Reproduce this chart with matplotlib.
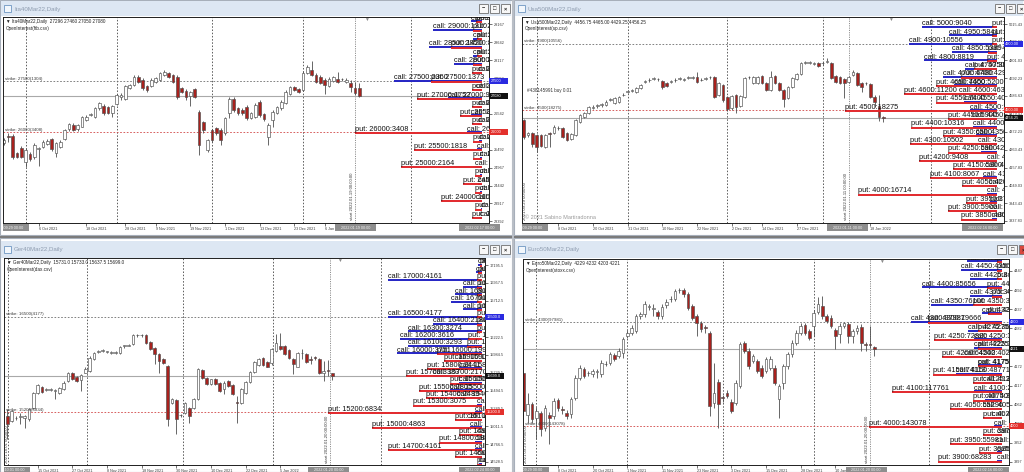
import matplotlib.pyplot as plt
from matplotlib.patches import Rectangle
from matplotlib.transforms import Bbox

plt.rcParams['font.family'] = ['Liberation Sans', 'DejaVu Sans']

W, H = 1024, 472

# ---------------- Ita40Mar22 (top left) ----------------
ita_open = [25680, 25880, 25900, 25390, 25530, 25140, 25360, 25270, 25510, 25580,
            25660, 25800, 25410, 25580, 25800, 26090, 26220, 26090, 26170, 26360,
            26510, 26460, 26700, 26770, 26730, 26580, 26830, 27050, 26990, 27290,
            27390, 27630, 27540, 27360, 27360, 27490, 27540, 27680, 27730, 27680,
            27630, 27290, 27220, 27070, 27260, 26610, 26290, 25480, 26070, 26120,
            26070, 25970, 26560, 26980, 26710, 26660, 26750, 26410, 26460, 26900,
            26540, 25870, 26360, 26580, 26710, 26850, 27120, 27320, 27260, 27240,
            27730, 27830, 27680, 27610, 27540, 27360, 27520, 27560, 27560, 27490,
            27460, 27290, 27296]
ita_high = [25830, 25970, 25950, 25440, 25590, 25530, 25420, 25680, 25580, 25780,
            25810, 25850, 25720, 25780, 26100, 26270, 26270, 26260, 26480, 26510,
            26560, 26750, 26900, 26820, 26770, 26800, 27120, 27150, 27400, 27430,
            27680, 27680, 27580, 27390, 27580, 27630, 27770, 27830, 27780, 27720,
            27680, 27340, 27260, 27220, 27300, 26650, 26330, 25820, 26110, 26170,
            26120, 26460, 27050, 27030, 26750, 26700, 26800, 26600, 26850, 26950,
            26580, 26270, 26650, 26770, 26950, 27240, 27370, 27370, 27300, 27800,
            27980, 28100, 27730, 27680, 27590, 27610, 27660, 27780, 27600, 27590,
            27540, 27490, 27460]
ita_low = [25630, 25730, 25210, 25240, 25240, 24990, 25150, 25220, 25020, 25540,
           25620, 25460, 25290, 25540, 25770, 26050, 26030, 26050, 26150, 26330,
           26470, 26430, 26670, 26520, 26540, 26460, 26800, 26950, 26960, 27260,
           27360, 27450, 27240, 27190, 27330, 27460, 27510, 27650, 27590, 27450,
           26990, 27150, 26950, 26770, 27000, 25340, 25990, 25430, 25730, 25920,
           25630, 25930, 26410, 26610, 26510, 26510, 26370, 26380, 26420, 26460,
           26330, 25630, 26170, 26540, 26670, 26820, 27090, 27200, 27150, 27200,
           27700, 27640, 27440, 27410, 27120, 27320, 27480, 27440, 27500, 27440,
           27190, 27100, 27050]
ita_close = [25780, 25870, 25290, 25290, 25290, 25480, 25210, 25630, 25530, 25730,
             25760, 25500, 25680, 25730, 26070, 26240, 26070, 26220, 26440, 26460,
             26520, 26700, 26850, 26560, 26580, 26770, 27090, 27100, 27360, 27390,
             27630, 27490, 27290, 27240, 27540, 27590, 27730, 27780, 27620, 27490,
             27050, 27190, 27050, 27170, 27050, 25630, 26070, 25780, 25780, 25970,
             25780, 26410, 26990, 26660, 26560, 26560, 26410, 26560, 26800, 26510,
             26380, 26220, 26600, 26730, 26900, 27190, 27320, 27240, 27190, 27750,
             27930, 27680, 27490, 27460, 27390, 27560, 27610, 27490, 27550, 27540,
             27340, 27150, 27080]
ita_strikes = [29250, 29000, 28750, 28500, 28250, 28000, 27750, 27500, 27250, 27000,
               26750, 26500, 26250, 26000, 25750, 25500, 25250, 25000, 24750, 24500,
               24250, 24000, 23750, 23500]
ita_calls = [300, 1310, 240, 1420, 250, 740, 100, 2360, 150, 920,
             100, 300, 100, 400, 80, 130, 60, 180, 50, 100,
             50, 150, 40, 60]
ita_puts = [150, 240, 130, 840, 130, 240, 260, 1373, 260, 1752,
            260, 600, 260, 3408, 240, 1818, 240, 2164, 200, 500,
            200, 1105, 200, 260]
ita_ticks = [29167, 28642, 28117, 27592, 27067, 26542, 26017, 25492, 24967, 24442, 23917, 23392]
ita_dates = ['6 Oct 2021', '18 Oct 2021', '28 Oct 2021', '9 Nov 2021', '19 Nov 2021',
             '1 Dec 2021', '13 Dec 2021', '23 Dec 2021', '6 Jan 2022']
ita_date_idx = [8, 19, 28, 35, 43, 51, 59, 67, 74]
ita_grid_idx = [5, 26, 48, 69, 94]
ita_stamps = ['2021.09.29 00:00', '2022.01.19 00:00', '2022.02.17 00:00']
ita_stamp_idx = [1.0, 81.1, 109.7]

# ---------------- Usa500Mar22 (top right) ----------------
usa_open = [4442, 4352, 4362, 4352, 4352, 4283, 4362, 4362, 4392, 4392,
            4362, 4327, 4352, 4432, 4462, 4482, 4516, 4526, 4532, 4532,
            4564, 4546, 4552, 4590, 4611, 4617, 4612, 4632, 4670, 4680,
            4688, 4685, 4678, 4666, 4668, 4680, 4688, 4684, 4693, 4696,
            4702, 4680, 4688, 4697, 4702, 4592, 4652, 4582, 4512, 4592,
            4526, 4582, 4697, 4662, 4662, 4706, 4666, 4622, 4706, 4662,
            4622, 4572, 4638, 4686, 4718, 4785, 4785, 4780, 4786, 4781,
            4788, 4786, 4706, 4702, 4686, 4672, 4712, 4726, 4662, 4662,
            4658, 4582, 4526, 4456.75]
usa_high = [4450, 4370, 4368, 4360, 4360, 4360, 4372, 4412, 4404, 4398,
            4368, 4366, 4448, 4478, 4488, 4524, 4530, 4536, 4542, 4560,
            4574, 4578, 4588, 4602, 4622, 4628, 4640, 4660, 4682, 4694,
            4700, 4696, 4684, 4672, 4680, 4692, 4700, 4696, 4704, 4708,
            4732, 4692, 4700, 4708, 4708, 4668, 4658, 4588, 4592, 4598,
            4592, 4700, 4708, 4708, 4708, 4712, 4672, 4738, 4712, 4668,
            4628, 4644, 4698, 4724, 4788, 4796, 4796, 4792, 4792, 4792,
            4812, 4792, 4712, 4708, 4692, 4708, 4742, 4732, 4668, 4670,
            4664, 4592, 4592, 4465.00]
usa_low = [4330, 4340, 4283, 4253, 4280, 4273, 4283, 4356, 4384, 4336,
           4316, 4320, 4346, 4426, 4456, 4476, 4510, 4516, 4522, 4526,
           4556, 4540, 4546, 4584, 4604, 4610, 4606, 4626, 4662, 4672,
           4680, 4676, 4630, 4640, 4662, 4672, 4680, 4678, 4686, 4690,
           4666, 4674, 4682, 4690, 4572, 4586, 4552, 4496, 4500, 4486,
           4518, 4576, 4690, 4656, 4656, 4656, 4614, 4616, 4656, 4616,
           4522, 4566, 4632, 4680, 4712, 4778, 4778, 4772, 4762, 4774,
           4782, 4686, 4666, 4656, 4572, 4666, 4706, 4646, 4612, 4654,
           4576, 4522, 4438, 4429.25]
usa_close = [4343, 4362, 4299, 4283, 4287, 4352, 4358, 4402, 4394, 4343,
             4323, 4358, 4442, 4472, 4482, 4518, 4520, 4527, 4533, 4552,
             4566, 4572, 4582, 4594, 4613, 4619, 4632, 4652, 4674, 4684,
             4692, 4687, 4638, 4646, 4673, 4684, 4691, 4688, 4695, 4699,
             4672, 4683, 4691, 4699, 4578, 4662, 4562, 4506, 4586, 4522,
             4586, 4692, 4698, 4702, 4702, 4662, 4622, 4702, 4662, 4622,
             4566, 4638, 4692, 4718, 4782, 4786, 4786, 4784, 4768, 4782,
             4792, 4692, 4672, 4662, 4662, 4702, 4732, 4652, 4642, 4661,
             4582, 4552, 4462, 4456.25]
usa_strikes = [5000, 4950, 4900, 4850, 4800, 4750, 4700, 4650, 4600, 4550,
               4500, 4450, 4400, 4350, 4300, 4250, 4200, 4150, 4100, 4050,
               4000, 3950, 3900, 3850]
usa_calls = [9040, 5841, 10556, 5389, 8819, 3852, 6480, 5200, 4633, 4020,
             3300, 3000, 2900, 2500, 2300, 1900, 1200, 1500, 1700, 1000,
             1200, 800, 900, 600]
usa_puts = [600, 600, 600, 1100, 1200, 2800, 4294, 7400, 11200, 7400,
            18275, 5900, 10316, 6500, 10502, 5900, 9408, 5300, 8067, 4200,
            16714, 3700, 5900, 4300]
usa_ticks = [5015.43, 4909.63, 4801.03, 4692.23, 4586.63, 4479.43,
             4372.23, 4263.43, 4157.83, 4049.03, 3943.43, 3837.83]
usa_dates = ['8 Oct 2021', '20 Oct 2021', '31 Oct 2021', '10 Nov 2021', '22 Nov 2021',
             '2 Dec 2021', '14 Dec 2021', '27 Dec 2021', '18 Jan 2022']
usa_date_idx = [8, 16, 24, 32, 40, 48, 55, 63, 80]
usa_grid_idx = [3, 24, 47, 69, 94]
usa_stamps = ['2021.09.29 00:00', '2022.01.11 00:00', '2022.02.16 00:00']
usa_stamp_idx = [0.9, 74.8, 105.9]

# ---------------- Ger40Mar22 (bottom left) ----------------
ger_open = [15152, 15084, 15120, 15135, 15129, 15107, 15265, 15468, 15550, 15505,
            15505, 15490, 15468, 15523, 15627, 15730, 15685, 15640, 15740, 15762,
            15920, 16018, 16033, 16018, 16009, 16009, 16002, 16099, 16106, 16124,
            16244, 16244, 16246, 16150, 16079, 15988, 15929, 15830, 15333, 15369,
            15160, 15188, 15265, 15265, 15378, 15776, 15672, 15581, 15649, 15604,
            15514, 15627, 15568, 15335, 15333, 15468, 15613, 15749, 15839, 15943,
            15884, 15866, 16033, 16101, 16101, 16047, 15920, 15821, 16002, 15988,
            15920, 15938, 15920, 15740, 15762, 15731.0]
ger_high = [15242, 15240, 15150, 15197, 15170, 15260, 15480, 15585, 15565, 15530,
            15525, 15515, 15550, 15620, 15745, 15745, 15700, 15715, 15810, 15960,
            16025, 16045, 16055, 16040, 16030, 16030, 16100, 16120, 16130, 16260,
            16268, 16268, 16262, 16165, 16092, 16000, 15945, 15845, 15395, 15385,
            15180, 15340, 15280, 15400, 15800, 15790, 15685, 15660, 15665, 15615,
            15620, 15640, 15580, 15423, 15525, 15625, 15760, 15895, 15940, 15955,
            15895, 16070, 16259, 16273, 16115, 16060, 15935, 16015, 16056, 16000,
            15966, 15960, 15935, 15898, 15910, 15733.0]
ger_low = [14836, 15070, 15100, 15039, 14994, 15090, 15250, 15455, 15465, 15485,
           15488, 15378, 15455, 15510, 15615, 15645, 15615, 15491, 15730, 15750,
           15905, 16000, 16015, 16000, 15990, 15990, 15990, 16080, 16095, 16110,
           16228, 16228, 16135, 16050, 15853, 15740, 15860, 15016, 15320, 14903,
           15145, 15175, 15062, 15250, 15365, 15660, 15570, 15570, 15570, 15480,
           15446, 15545, 15435, 15053, 15320, 15455, 15600, 15735, 15825, 15825,
           15810, 15850, 16020, 16050, 15975, 15930, 15717, 15810, 15920, 15870,
           15853, 15915, 15725, 15627, 15690, 15637.5]
ger_close = [15039, 15220, 15130, 15138, 15152, 15242, 15468, 15568, 15477, 15508,
             15508, 15493, 15536, 15604, 15730, 15658, 15627, 15703, 15794, 15943,
             16011, 16022, 16036, 16022, 16013, 16013, 16088, 16103, 16114, 16246,
             16248, 16248, 16146, 16065, 15988, 15898, 15875, 15116, 15378, 15107,
             15163, 15324, 15152, 15387, 15785, 15672, 15581, 15649, 15581, 15491,
             15604, 15559, 15446, 15333, 15514, 15613, 15749, 15884, 15929, 15839,
             15821, 16056, 16137, 16065, 15988, 15943, 15853, 16002, 16000, 15884,
             15918, 15936, 15740, 15762, 15760, 15699.0]
ger_strikes = [17200, 17100, 17000, 16900, 16800, 16700, 16600, 16500, 16400, 16300,
               16200, 16100, 16000, 15900, 15800, 15700, 15600, 15500, 15400, 15300,
               15200, 15100, 15000, 14900, 14800, 14700, 14600, 14500]
ger_calls = [150, 250, 4161, 850, 1200, 1370, 850, 4177, 2180, 3274,
             3616, 3293, 3751, 1200, 1000, 2170, 1000, 1400, 1100, 200,
             300, 660, 500, 200, 300, 300, 200, 100]
ger_puts = [80, 150, 200, 200, 200, 200, 200, 200, 200, 200,
            620, 650, 1990, 1690, 2441, 3383, 1400, 2805, 2489, 3075,
            6834, 1180, 4863, 1000, 1880, 4161, 1200, 200]
ger_ticks = [17195.5, 16957.5, 16712.5, 16467.5, 16222.5, 15984.5,
             15739.5, 15494.5, 15249.5, 15011.5, 14766.5, 14528.5]
ger_dates = ['15 Oct 2021', '27 Oct 2021', '8 Nov 2021', '18 Nov 2021',
             '30 Nov 2021', '10 Dec 2021', '22 Dec 2021', '5 Jan 2022']
ger_date_idx = [7, 15, 23, 31, 39, 47, 55, 63]
ger_grid_idx = [0.2, 18.3, 40.5, 61.4, 86.3]
ger_stamps = ['2021.10.01 00:00', '2022.01.20 00:00', '2022.02.24 00:00']
ger_stamp_idx = [0.5, 74.2, 109.0]

# ---------------- Euro50Mar22 (bottom right) ----------------
eu_open = [4154, 4031, 4063, 4025, 4039, 3996, 4031, 4029, 4076, 4049,
           4039, 4034, 4082, 4140, 4164, 4152, 4149, 4156, 4149, 4178,
           4183, 4205, 4202, 4212, 4260, 4269, 4274, 4317, 4322, 4344,
           4339, 4329, 4317, 4348, 4365, 4367, 4391, 4392, 4380, 4346,
           4316, 4296, 4284, 4267, 4068, 4127, 4082, 4097, 4070, 4068,
           4116, 4239, 4217, 4188, 4188, 4169, 4159, 4169, 4169, 4077,
           4125, 4173, 4207, 4241, 4269, 4291, 4274, 4289, 4329, 4346,
           4317, 4313, 4276, 4265, 4289, 4293, 4260, 4274, 4286, 4236,
           4236, 4229]
eu_high = [4160, 4097, 4070, 4055, 4045, 4060, 4040, 4080, 4082, 4058,
           4046, 4085, 4147, 4176, 4170, 4160, 4166, 4164, 4190, 4188,
           4214, 4212, 4224, 4257, 4276, 4291, 4324, 4329, 4361, 4352,
           4351, 4336, 4351, 4365, 4374, 4396, 4399, 4399, 4386, 4352,
           4322, 4302, 4291, 4273, 4183, 4135, 4090, 4104, 4077, 4132,
           4243, 4246, 4224, 4209, 4195, 4176, 4200, 4202, 4176, 4123,
           4180, 4214, 4248, 4276, 4296, 4298, 4281, 4334, 4372, 4375,
           4324, 4320, 4283, 4296, 4300, 4300, 4279, 4291, 4293, 4243,
           4289, 4232]
eu_low = [4030, 4010, 4010, 3962, 3972, 3985, 3948, 4020, 4045, 4034,
          4020, 4025, 4075, 4134, 4138, 4144, 4143, 4140, 4142, 4172,
          4177, 4188, 4196, 4197, 4253, 4262, 4268, 4310, 4315, 4336,
          4317, 4309, 4310, 4341, 4358, 4360, 4384, 4373, 4334, 4306,
          4260, 4272, 4269, 4029, 4053, 3996, 4070, 4080, 4037, 4061,
          4110, 4210, 4166, 4181, 4152, 4138, 4152, 4162, 4118, 4025,
          4106, 4166, 4200, 4234, 4262, 4262, 4248, 4260, 4322, 4310,
          4296, 4282, 4221, 4241, 4282, 4241, 4241, 4267, 4217, 4217,
          4226, 4203]
eu_close = [4044, 4063, 4020, 4044, 3991, 4053, 4025, 4073, 4053, 4048,
            4029, 4077, 4140, 4169, 4145, 4153, 4159, 4157, 4183, 4180,
            4207, 4195, 4217, 4250, 4269, 4284, 4317, 4322, 4351, 4345,
            4340, 4316, 4344, 4358, 4366, 4389, 4392, 4380, 4341, 4313,
            4296, 4279, 4283, 4058, 4097, 4063, 4081, 4087, 4044, 4125,
            4236, 4217, 4173, 4202, 4159, 4145, 4193, 4195, 4125, 4116,
            4173, 4207, 4241, 4269, 4289, 4269, 4255, 4327, 4351, 4317,
            4303, 4289, 4260, 4289, 4296, 4260, 4274, 4284, 4241, 4235,
            4235, 4221]
eu_strikes = [4475, 4450, 4425, 4400, 4375, 4350, 4325, 4300, 4275, 4250,
              4225, 4200, 4175, 4150, 4125, 4100, 4075, 4050, 4025, 4000,
              3975, 3950, 3925, 3900]
eu_calls = [37000, 43500, 34000, 85656, 34000, 76100, 21000, 97981, 36000, 30000,
            30000, 40201, 25000, 48771, 20000, 29500, 18000, 20000, 10000, 8000,
            5000, 6000, 5000, 5000]
eu_puts = [5000, 5000, 5000, 16000, 10000, 30500, 15000, 79666, 25000, 72820,
           25000, 64542, 25000, 74113, 31000, 117761, 31000, 55296, 20000, 143078,
           20000, 55981, 24000, 68283]
eu_ticks = [4447, 4392, 4337, 4282, 4227, 4172, 4117, 4062, 4007, 3952, 3897]
eu_dates = ['8 Oct 2021', '20 Oct 2021', '1 Nov 2021', '11 Nov 2021', '23 Nov 2021',
            '3 Dec 2021', '15 Dec 2021', '28 Dec 2021', '10 Jan 2022']
eu_date_idx = [8, 16, 24, 32, 40, 48, 56, 64, 72]
eu_grid_idx = [2.9, 23.9, 46, 67, 93.6]
eu_stamps = ['2021.09.29 00:00', '2022.01.20 00:00', '2022.02.16 00:00']
eu_stamp_idx = [1.1, 79.1, 107.3]

BLUE = '#2424c4'
RED = '#e2282c'
BEAR = '#a8211d'
WICK = '#4e4e4e'
TXT = '#3a3a3a'

panels = [
    dict(name='Ita40Mar22', csv='ftb.csv', fmt='{:.0f}',
         o=ita_open, h=ita_high, l=ita_low, c=ita_close,
         strikes=ita_strikes, calls=ita_calls, puts=ita_puts,
         call_strike=(27500, 1304), put_strike=(26000, 3408),
         ticks=ita_ticks, dates=ita_dates, date_idx=ita_date_idx, grid=ita_grid_idx,
         start=81.1, start_label='start 2022.01.19 00:00:00', edge_label=None,
         stamps=ita_stamps, stamp_idx=ita_stamp_idx, extras=[],
         win=(0, 0, 512, 235, 1, 16), buttons=[479, 490, 501], close_red=False,
         chart=(3, 17, 489, 223), x0=4.0, dx=4.333, yscale=(24.3, 29167, 29.3),
         gap=7, oi_px=0.0373),
    dict(name='Usa500Mar22', csv='sp.csv', fmt='{:.2f}',
         o=usa_open, h=usa_high, l=usa_low, c=usa_close,
         strikes=usa_strikes, calls=usa_calls, puts=usa_puts,
         call_strike=(4900, 10556), put_strike=(4500, 18275),
         ticks=usa_ticks, dates=usa_dates, date_idx=usa_date_idx, grid=usa_grid_idx,
         start=75.1, start_label='start 2022.01.11 00:00:00',
         edge_label='2021.09.29 00:00:00',
         stamps=usa_stamps, stamp_idx=usa_stamp_idx,
         extras=[(5, 73, '#438145991 buy 0.01', 3.3, '#333333'),
                 (3, 200, '\u00a9 2021 Sabino Martiradonna', 4.0, '#9a9a9a')],
         win=(514, 0, 1024, 235, 1, 16), buttons=[995, 1006, 1017], close_red=False,
         chart=(522, 17.3, 1003.7, 222.7), x0=523.7, dx=4.333,
         yscale=(24.3, 5015.43, 5.987), gap=6.7, oi_px=0.0083),
    dict(name='Ger40Mar22', csv='dax.csv', fmt='{:.1f}',
         o=ger_open, h=ger_high, l=ger_low, c=ger_close,
         strikes=ger_strikes, calls=ger_calls, puts=ger_puts,
         call_strike=(16500, 4177), put_strike=(15200, 6834),
         ticks=ger_ticks, dates=ger_dates, date_idx=ger_date_idx, grid=ger_grid_idx,
         start=74.5, start_label='start 2022.01.20 00:00:00',
         edge_label='2021.10.01 00:00:00',
         stamps=ger_stamps, stamp_idx=ger_stamp_idx, extras=[],
         win=(0, 238, 512, 472, 241, 258), buttons=[479, 490, 501], close_red=False,
         chart=(4, 257.7, 485, 465.3), x0=7.3, dx=4.333,
         yscale=(265.3, 17195.5, 13.56), gap=3.3, oi_px=0.0225),
    dict(name='Euro50Mar22', csv='stoxx.csv', fmt='{:.0f}',
         o=eu_open, h=eu_high, l=eu_low, c=eu_close,
         strikes=eu_strikes, calls=eu_calls, puts=eu_puts,
         call_strike=(4300, 97981), put_strike=(4000, 143078),
         ticks=eu_ticks, dates=eu_dates, date_idx=eu_date_idx, grid=eu_grid_idx,
         start=80.1, start_label='start 2022.01.20 00:00:00',
         edge_label='2021.09.29 00:00:00',
         stamps=eu_stamps, stamp_idx=eu_stamp_idx, extras=[],
         win=(514, 238, 1024, 472, 241, 258), buttons=[997, 1008, 1019], close_red=True,
         chart=(522.7, 258.7, 1008.7, 465.3), x0=523.3, dx=4.333,
         yscale=(271, 4447, 2.88), gap=7, oi_px=0.00093),
]

fig = plt.figure(figsize=(W / 100, H / 100), dpi=100)
fig.patch.set_facecolor('#f3f3f3')
bg = fig.add_axes([0, 0, 1, 1])
bg.set_xlim(0, W)
bg.set_ylim(H, 0)
bg.axis('off')


def clip_px(artist, l, t, r, b):
    # clip an artist to a rectangle given in figure pixels (origin top-left)
    artist.set_clip_on(True)
    artist.set_clip_path(None)
    artist.set_clip_box(Bbox.from_extents(l, H - b, r, H - t))


def draw_window(p):
    x0, y0, x1, y1, tt, tb = p['win']
    bg.add_patch(Rectangle((x0, y0), x1 - x0, y1 - y0, fc='white', ec='#a7afba', lw=0.8))
    bg.add_patch(Rectangle((x0 + 1, tt), x1 - x0 - 2, tb - tt, fc='#dde7f3', ec='none'))
    ym = (tt + tb) / 2
    bg.add_patch(Rectangle((x0 + 4, ym - 3.5), 7, 7, fc='#f2f7fc', ec='#6e96c2', lw=0.6))
    bg.text(x0 + 14, ym + 0.5, p['name'] + ',Daily', fontsize=4.4, color='#8f9db0', va='center')
    for i, (bx, g) in enumerate(zip(p['buttons'], ['\u2212', '\u25a1', '\u00d7'])):
        fc = '#d8473e' if p['close_red'] and i == 2 else '#f7f7f7'
        bg.add_patch(Rectangle((bx, ym - 4.5), 9, 9, fc=fc, ec='#707070', lw=0.6))
        bg.text(bx + 4.5, ym, g, fontsize=4, ha='center', va='center',
                color='#222222', fontweight='bold')


def draw_panel(p):
    l, t, r, b = p['chart']
    wpx, hpx = r - l, b - t
    x0, dx = p['x0'], p['dx']
    yref, pref, ppx = p['yscale']
    o, hi, lo, c = p['o'], p['h'], p['l'], p['c']
    fmt = p['fmt']
    ax = fig.add_axes([l / W, 1 - b / H, wpx / W, hpx / H])
    xlo, xhi = (l - x0) / dx, (r - x0) / dx
    ylo, yhi = pref - (b - yref) * ppx, pref - (t - yref) * ppx
    ax.set_facecolor('white')
    for s in ax.spines.values():
        s.set_color('#1f1f1f')
        s.set_linewidth(0.7)

    # ticks: prices on the right, dates below
    ax.yaxis.tick_right()
    ax.set_yticks(p['ticks'], [fmt.format(v) for v in p['ticks']])
    ax.tick_params(axis='y', length=2, width=0.5, pad=1.5, labelsize=2.8, colors=TXT)
    ax.set_xticks(p['date_idx'], p['dates'])
    ax.tick_params(axis='x', length=2, width=0.5, pad=1.0, labelsize=2.7, colors=TXT)
    for lab in ax.get_xticklabels():
        lab.set_horizontalalignment('left')
    ax.set_xlim(xlo, xhi)
    ax.set_ylim(ylo, yhi)

    # grid and levels
    for g in p['grid']:
        ax.axvline(g, color='#333333', lw=0.55, ls=(0, (2, 2.2)), zorder=1)
    ax.axvline(p['start'], color='#707070', lw=0.55, ls=(0, (1.5, 1.5)), zorder=1)
    cs, coi = p['call_strike']
    ps, poi = p['put_strike']
    ax.axhline(cs, color='#6d6d6d', lw=0.6, ls=(0, (2, 2)), zorder=1)
    ax.axhline(ps, color='#d04545', lw=0.6, ls=(0, (2, 2)), zorder=1)
    ax.axhline(c[-1], color='#a9a9a9', lw=0.8, zorder=1)
    ax.text(xlo + 2 / dx, cs + 1.3 * ppx, f'strike: {cs}({coi})', fontsize=3.2, color=TXT, zorder=5)
    ax.text(xlo + 2 / dx, ps + 1.3 * ppx, f'strike: {ps}({poi})', fontsize=3.2, color=TXT, zorder=5)

    # candles
    xs = list(range(len(o)))
    ax.vlines(xs, lo, hi, color=WICK, lw=0.6, zorder=2)
    bottoms = [min(a, z) for a, z in zip(o, c)]
    heights = [max(abs(z - a), 0.8 * ppx) for a, z in zip(o, c)]
    faces = [BEAR if z < a else 'white' for a, z in zip(o, c)]
    ax.bar(xs, heights, bottom=bottoms, width=0.64, color=faces,
           edgecolor=WICK, linewidth=0.45, zorder=2.5)

    # open interest bars, anchored at the right
    end = xhi - p['gap'] / dx
    k = p['oi_px'] / dx
    cx = [end - v * k for v in p['calls']]
    px_ = [end - v * k for v in p['puts']]
    ax.hlines(p['strikes'], cx, end, color=BLUE, lw=1.4, zorder=3)
    ax.hlines([s - 0.6 * ppx for s in p['strikes']], px_, end, color=RED, lw=1.4, zorder=3.1)
    for s, v, x in zip(p['strikes'], p['calls'], cx):
        ax.text(x, s + 1.7 * ppx, f'call: {s}:{v}', fontsize=5.3, color='#111111',
                zorder=4, clip_on=True)
    for s, v, x in zip(p['strikes'], p['puts'], px_):
        ax.text(x, s + 1.7 * ppx, f'put: {s}:{v}', fontsize=5.3, color='#111111',
                zorder=4, clip_on=True)

    # header lines
    head = f"\u25bc {p['name']},Daily  " + ' '.join(fmt.format(v) for v in (o[-1], hi[-1], lo[-1], c[-1]))
    ax.text(3 / wpx, 1 - 2.5 / hpx, head, transform=ax.transAxes, fontsize=3.3,
            color='#222222', va='top', zorder=5)
    ax.text(3 / wpx, 1 - 9 / hpx, f"OpenInterest({p['csv']})", transform=ax.transAxes,
            fontsize=3.3, color='#222222', va='top', zorder=5)
    ax.text(len(o) + 0.7, yhi, '\u25bc', fontsize=3.5, color='#8a8a8a',
            ha='center', va='top', zorder=5)
    for xp, yp, s, fs, col in p['extras']:
        ax.text(xp / wpx, 1 - yp / hpx, s, transform=ax.transAxes, fontsize=fs,
                color=col, va='center', zorder=5)

    # vertical labels
    ax.text(p['start'] - 1.3 / dx, ylo + 2.5 * ppx, p['start_label'], rotation=90,
            fontsize=3.1, color=TXT, ha='right', va='bottom', zorder=5)
    if p['edge_label']:
        ax.text(xlo + 1 / dx, ylo + 2.5 * ppx, p['edge_label'], rotation=90,
                fontsize=3.1, color=TXT, ha='left', va='bottom', zorder=5)

    # price boxes on the axis
    yt = ax.get_yaxis_transform()
    for val, col in [(cs, '#2a2ae0'), (c[-1], '#111111'), (ps, '#e3302c')]:
        ax.add_patch(Rectangle((1, val - 3 * ppx), 19 / wpx, 6 * ppx, transform=yt,
                               fc=col, ec='none', clip_on=False, zorder=6))
        ax.text(1 + 1.5 / wpx, val, fmt.format(val), transform=yt, fontsize=2.8,
                color='white', va='center', clip_on=False, zorder=7)

    # date stamps on the time axis
    xt = ax.get_xaxis_transform()
    wr = p['win'][2]
    for ctr, s in zip(p['stamp_idx'], p['stamps']):
        box = Rectangle((ctr - 20.5 / dx, -8.4 / hpx), 41 / dx, 7 / hpx, transform=xt,
                        fc='#8e8e8e', ec='none', zorder=6)
        ax.add_patch(box)
        clip_px(box, l, b, wr, b + 10)
        tx = ax.text(ctr, -4.9 / hpx, s, transform=xt, fontsize=2.7, color='#f4f4f4',
                     ha='center', va='center', zorder=7)
        clip_px(tx, l, b, wr, b + 10)


for p in panels:
    draw_window(p)
bg.add_patch(Rectangle((0, 235.5), W, 2.5, fc='#7b7b7b', ec='none'))
bg.add_patch(Rectangle((512, 0), 2, H, fc='#b9bec6', ec='none'))
for p in panels:
    draw_panel(p)

fig.savefig('out.png', dpi=100, facecolor=fig.get_facecolor())
